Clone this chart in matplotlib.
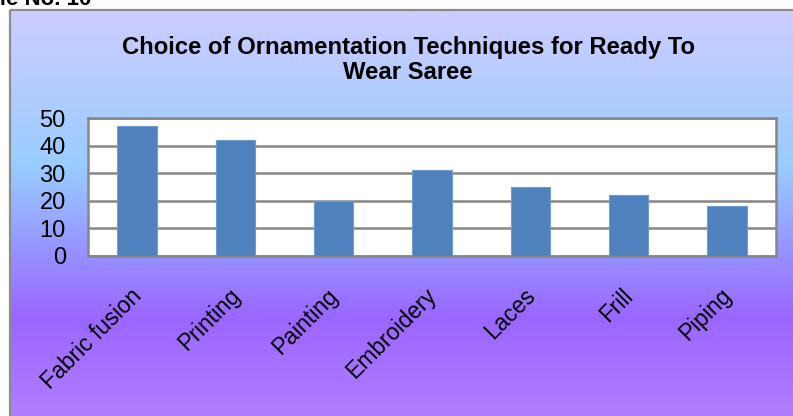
import matplotlib
matplotlib.use("Agg")
import matplotlib.pyplot as plt
import numpy as np
from matplotlib.colors import LinearSegmentedColormap

categories = ["Fabric fusion", "Printing", "Painting", "Embroidery", "Laces", "Frill", "Piping"]
values = [47, 42, 20, 31, 25, 22, 18]
yticks = [0, 10, 20, 30, 40, 50]
title = "Choice of Ornamentation Techniques for Ready To\nWear Saree"

W, H = 793, 416
fig = plt.figure(figsize=(W / 100, H / 100), dpi=100)
fig.patch.set_facecolor("white")

# background gradient panel
bg = fig.add_axes([0, 0, 1, 1], zorder=0)
bg.set_xlim(0, W)
bg.set_ylim(H, 0)
bg.axis("off")
stops = [(0.0, (205/255, 205/255, 255/255)),
         (0.38, (153/255, 204/255, 255/255)),
         (0.59, (150/255, 146/255, 255/255)),
         (0.75, (155/255, 102/255, 255/255)),
         (1.0, (178/255, 126/255, 255/255))]
cmap = LinearSegmentedColormap.from_list("bg", stops)
grad = np.linspace(0, 1, 400).reshape(-1, 1)
bg.imshow(grad, cmap=cmap, aspect="auto", extent=(10, W + 5, H + 5, 10), zorder=0)
bg.plot([9.5, 9.5], [H + 5, 9.5], color="#8c8c8c", lw=1.6, zorder=2, solid_capstyle="butt")
bg.plot([9.5, W + 5], [9.5, 9.5], color="#8c8c8c", lw=1.6, zorder=2, solid_capstyle="butt")
bg.text(91, 5, "Table No. 10", fontsize=16, fontweight="bold", family="Liberation Sans",
        ha="right", va="baseline", color="black")
bg.text(408, 60, title, fontsize=17.2, fontweight="bold", family="Liberation Sans",
        ha="center", va="center", linespacing=1.1, color="black")

# plot area
left, right, top, bottom = 88, 776, 118, 256
ax = fig.add_axes([left / W, 1 - bottom / H, (right - left) / W, (bottom - top) / H], zorder=1)
ax.set_facecolor("white")
x = np.arange(len(categories))
ax.bar(x, values, width=0.4, color="#4f81bd", edgecolor="#6f9bd0", linewidth=0.8, zorder=3)
ax.set_xlim(-0.5, len(categories) - 0.5)
ax.set_ylim(0, 50)
ax.set_yticks(yticks)
ax.yaxis.grid(True, color="#868686", linewidth=1.8, zorder=1)
for s in ax.spines.values():
    s.set_color("#868686")
    s.set_linewidth(1.8)
ax.tick_params(axis="y", length=0, pad=16, labelsize=17)
ax.tick_params(axis="x", length=0)
for lbl in ax.get_yticklabels():
    lbl.set_family("Liberation Sans")
ax.set_xticks(x)
ax.set_xticklabels([])
for i, c in enumerate(categories):
    ax.annotate(c, xy=(i, 0), xycoords="data", xytext=(-7, -28), textcoords="offset pixels",
                rotation=45, rotation_mode="anchor", ha="right", va="top",
                fontsize=16.5, family="Liberation Sans", color="black", annotation_clip=False)

fig.savefig("out.png", dpi=100)
